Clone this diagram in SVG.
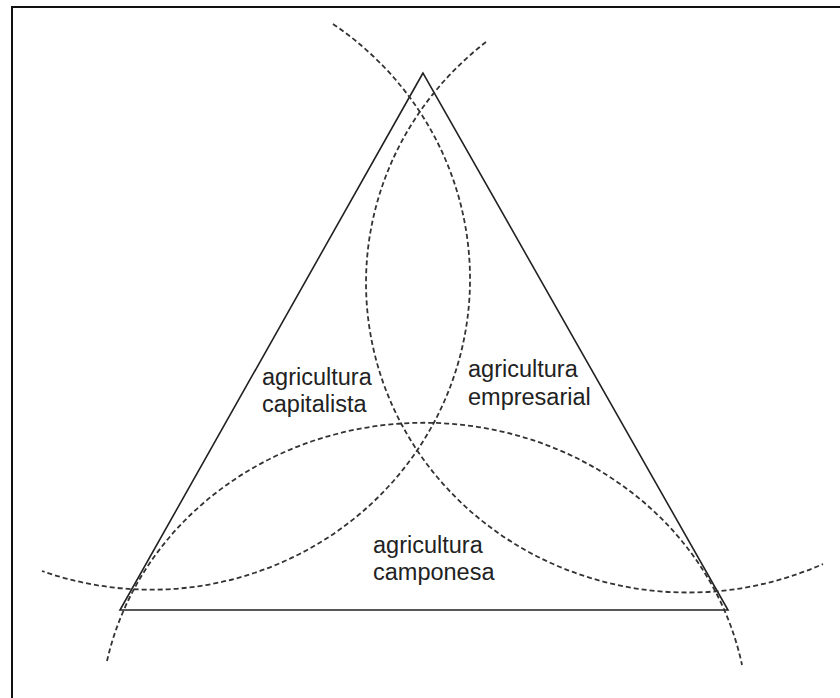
<svg xmlns="http://www.w3.org/2000/svg" width="840" height="698" viewBox="0 0 840 698">
<style>
.frame{fill:none;stroke:#111;stroke-width:2}
.tri{fill:none;stroke:#222;stroke-width:1.6;stroke-linejoin:miter}
.arc{fill:none;stroke:#333;stroke-width:1.8;stroke-dasharray:5 3}
.lbl{font-family:"Liberation Sans",Arial,sans-serif;font-size:23.5px;fill:#222}
</style>
<rect width="840" height="698" fill="#fff"/>
<path class="frame" d="M12,698 V7 H840"/>
<g id="triangle"><polygon class="tri" points="423,73 120,610 728,610"/></g>
<g id="connectors">
<path id="arcP" class="arc" d="M333,24 A319,310.6 0 0 1 42,571"/>
<path id="arcQ" class="arc" d="M486,42 A322,309.5 0 0 0 823,564"/>
<path id="arcR" class="arc" d="M107,661 A324,300 0 0 1 742,665"/>
</g>
<g id="capitalista"><text class="lbl" x="262" y="385">agricultura</text><text class="lbl" x="262" y="412">capitalista</text></g>
<g id="empresarial"><text class="lbl" x="468" y="377">agricultura</text><text class="lbl" x="468" y="405">empresarial</text></g>
<g id="camponesa"><text class="lbl" x="373" y="553">agricultura</text><text class="lbl" x="373" y="580">camponesa</text></g>
</svg>
